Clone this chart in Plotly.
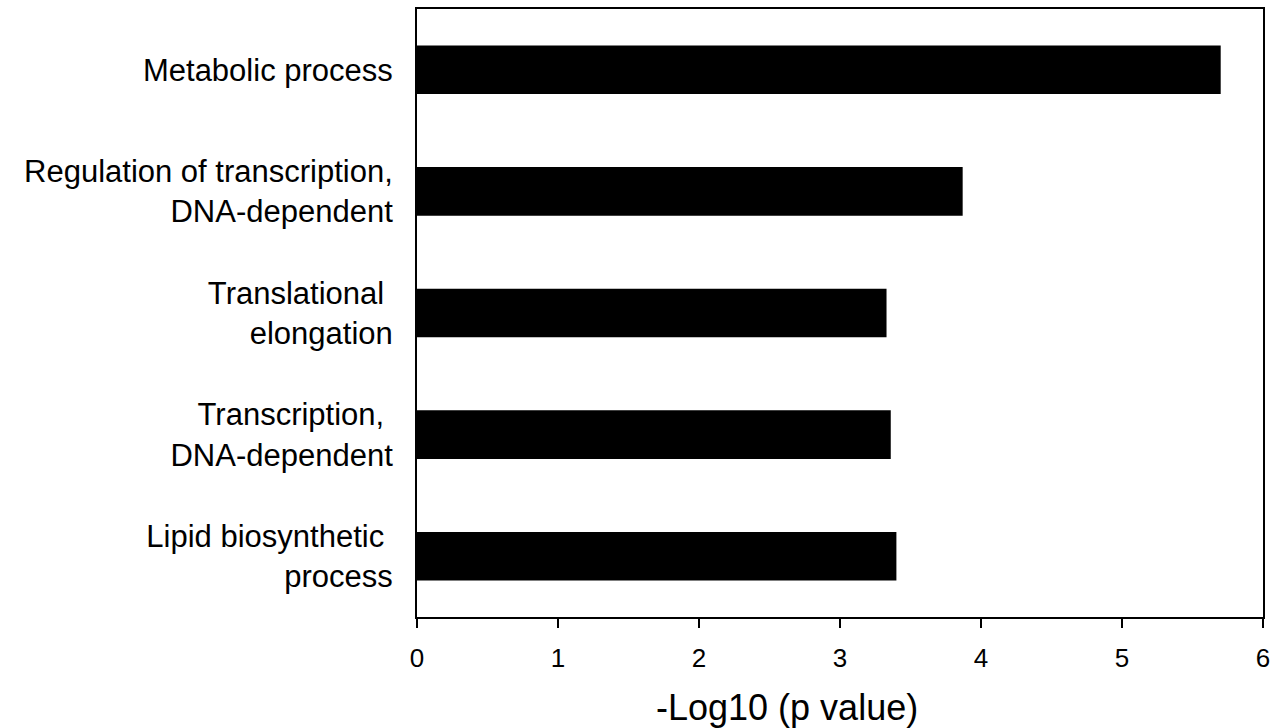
import plotly.graph_objects as go

categories = [
    "Metabolic process",
    "Regulation of transcription,<br>DNA-dependent",
    "Translational\u00a0<br>elongation",
    "Transcription,\u00a0<br>DNA-dependent",
    "Lipid biosynthetic\u00a0<br>process",
]
values = [5.70, 3.87, 3.33, 3.36, 3.40]
x_ticks = [0, 1, 2, 3, 4, 5, 6]
x_title = "-Log10 (p value)"

FONT = "Liberation Sans, Arial, sans-serif"

fig = go.Figure(
    go.Bar(
        x=values,
        y=categories,
        orientation="h",
        width=0.4,
        marker=dict(color="black", line=dict(width=0)),
    )
)

fig.update_layout(
    width=1277,
    height=728,
    margin=dict(l=417, r=7, t=8, b=111),
    plot_bgcolor="white",
    paper_bgcolor="white",
    font=dict(family=FONT, color="black"),
    showlegend=False,
)

fig.update_xaxes(
    range=[0, 6],
    tickvals=x_ticks,
    ticktext=[str(t) for t in x_ticks],
    ticks="outside",
    ticklen=9,
    tickwidth=1.5,
    tickcolor="black",
    tickfont=dict(size=26, family=FONT, color="black"),
    ticklabelstandoff=8,
    showline=True,
    linecolor="black",
    linewidth=2,
    mirror=True,
    showgrid=False,
    zeroline=False,
)

fig.update_yaxes(
    autorange="reversed",
    ticks="",
    tickfont=dict(size=31, family=FONT, color="black"),
    ticklabelstandoff=16,
    showline=True,
    linecolor="black",
    linewidth=2,
    mirror=True,
    showgrid=False,
    zeroline=False,
)

fig.add_annotation(
    text=x_title,
    xref="paper",
    yref="paper",
    x=0.437,
    y=-0.149,
    xanchor="center",
    yanchor="middle",
    showarrow=False,
    font=dict(size=36, family=FONT, color="black"),
)

fig.write_html(
    "out.html",
    config={"displayModeBar": False},
    post_script="document.body.style.margin='0';document.body.style.overflow='hidden';",
)
